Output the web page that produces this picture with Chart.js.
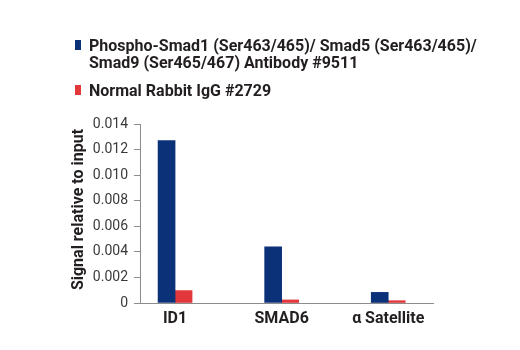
<!DOCTYPE html>
<html>
<head>
<meta charset="utf-8">
<script src="https://cdn.jsdelivr.net/npm/chart.js@4"></script>
<style>
html,body{margin:0;padding:0;background:#fff;}
#wrap{width:520px;height:350px;position:relative;}
</style>
</head>
<body>
<div id="wrap"><canvas id="c" width="520" height="350"></canvas></div>
<script>
const categories = ['ID1', 'SMAD6', 'α Satellite'];
const seriesNames = [
  ['Phospho-Smad1 (Ser463/465)/ Smad5 (Ser463/465)/', 'Smad9 (Ser465/467) Antibody #9511'],
  ['Normal Rabbit IgG #2729']
];
const phosphoValues = [0.0127, 0.0044, 0.00083];
const iggValues = [0.00097, 0.00024, 0.00018];
const yTicks = [0, 0.002, 0.004, 0.006, 0.008, 0.010, 0.012, 0.014];
const yTitle = 'Signal relative to input';

const BLUE = '#0b3178';
const RED = '#e2373b';
const FONT = "Roboto, 'Liberation Sans', sans-serif";

const legendPlugin = {
  id: 'customLegend',
  afterDraw(chart) {
    const ctx = chart.ctx;
    ctx.save();
    ctx.font = "bold 16px " + FONT;
    ctx.textBaseline = 'alphabetic';
    ctx.textAlign = 'left';
    const items = [
      {lines: seriesNames[0], color: BLUE, y: 51},
      {lines: seriesNames[1], color: RED, y: 96}
    ];
    items.forEach(it => {
      ctx.fillStyle = it.color;
      ctx.fillRect(75, it.y - 11, 6, 10);
      ctx.fillStyle = '#231f20';
      it.lines.forEach((t, i) => ctx.fillText(t, 89, it.y + i * 16.5));
    });
    ctx.restore();
  }
};

new Chart(document.getElementById('c'), {
  type: 'bar',
  data: {
    datasets: [
      {label: seriesNames[0].join(' '), data: phosphoValues.map((v, i) => ({x: i, y: v})), backgroundColor: BLUE, barThickness: 17},
      {label: seriesNames[1].join(' '), data: iggValues.map((v, i) => ({x: i, y: v})), backgroundColor: RED, barThickness: 17}
    ]
  },
  options: {
    responsive: false,
    animation: false,
    layout: {padding: {left: 69, right: 87, top: 124, bottom: 17}},
    plugins: {legend: {display: false}, tooltip: {enabled: false}},
    scales: {
      x: {
        type: 'linear',
        offset: false,
        min: -0.329,
        max: 2.42,
        afterBuildTicks: s => { s.ticks = categories.map((c, i) => ({value: i})); },
        afterFit: s => { s.height = 30; },
        grid: {display: true, drawOnChartArea: false, drawTicks: false, color: 'rgba(0,0,0,0)'},
        border: {display: true, color: '#8c8c8c', width: 1},
        ticks: {
          callback: (v) => categories[v],
          padding: 6,
          maxRotation: 0,
          autoSkip: false,
          color: '#231f20',
          font: {family: FONT, size: 16, weight: 'bold'}
        }
      },
      y: {
        min: 0,
        max: 0.014,
        afterBuildTicks: s => { s.ticks = yTicks.map(v => ({value: v})); },
        afterFit: s => { s.width = 71; },
        grid: {drawOnChartArea: false, drawTicks: true, tickLength: 6, color: '#8c8c8c'},
        border: {display: true, color: '#8c8c8c', width: 1},
        ticks: {
          callback: v => v === 0 ? '0' : v.toFixed(3),
          padding: 6,
          color: '#3a3a3a',
          font: {family: FONT, size: 14, weight: 'normal'}
        },
        title: {
          display: true,
          text: '  ' + yTitle,
          color: '#231f20',
          padding: {top: 0, bottom: 0},
          font: {family: FONT, size: 16, weight: 'bold'}
        }
      }
    }
  },
  plugins: [legendPlugin]
});
</script>
</body>
</html>
